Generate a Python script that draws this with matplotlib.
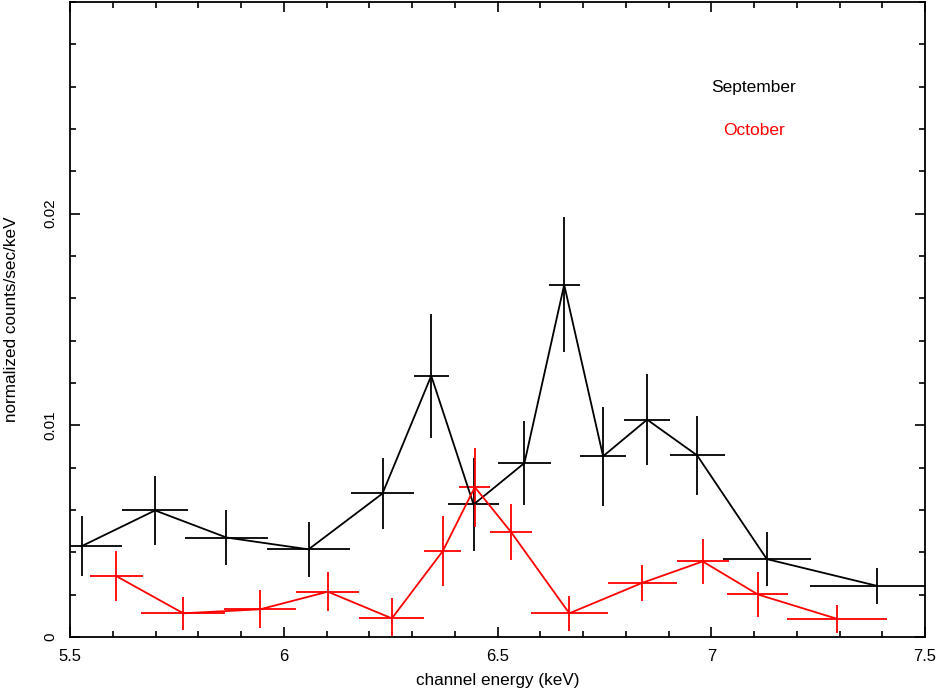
import matplotlib.pyplot as plt
from matplotlib.ticker import MultipleLocator

plt.rcParams['font.family'] = ['Liberation Sans', 'DejaVu Sans']

# September (black)
sep_e = [5.527, 5.699, 5.866, 6.058, 6.231, 6.345, 6.444, 6.563, 6.656, 6.747, 6.850, 6.967, 7.130, 7.387]
sep_de = [0.094, 0.077, 0.097, 0.098, 0.073, 0.041, 0.060, 0.061, 0.036, 0.054, 0.054, 0.064, 0.103, 0.155]
sep_rate = [0.00429, 0.00598, 0.00470, 0.00414, 0.00678, 0.01234, 0.00626, 0.00822, 0.01664, 0.00854, 0.01027, 0.00858, 0.00368, 0.00242]
sep_err = [0.00142, 0.00164, 0.00129, 0.00130, 0.00167, 0.00292, 0.00218, 0.00197, 0.00318, 0.00233, 0.00215, 0.00187, 0.00126, 0.00085]

# October (red)
oct_e = [5.608, 5.765, 5.945, 6.103, 6.253, 6.372, 6.447, 6.532, 6.668, 6.839, 6.980, 7.109, 7.294]
oct_de = [0.062, 0.098, 0.084, 0.074, 0.076, 0.043, 0.036, 0.049, 0.090, 0.081, 0.061, 0.071, 0.117]
oct_rate = [0.00288, 0.00112, 0.00131, 0.00214, 0.00088, 0.00406, 0.00708, 0.00495, 0.00112, 0.00256, 0.00357, 0.00201, 0.00086]
oct_err = [0.00118, 0.00079, 0.00089, 0.00091, 0.00095, 0.00164, 0.00187, 0.00132, 0.00082, 0.00084, 0.00107, 0.00105, 0.00065]

fig = plt.figure(figsize=(9.44, 6.92), dpi=100)
ax = fig.add_axes([70/944, 1 - 637/692, 855/944, 635/692])

ax.errorbar(sep_e, sep_rate, xerr=sep_de, yerr=sep_err, fmt='-', color='black',
            lw=1.3, elinewidth=1.3, capsize=0)
ax.errorbar(oct_e, oct_rate, xerr=oct_de, yerr=oct_err, fmt='-', color='red',
            lw=1.3, elinewidth=1.3, capsize=0)

ax.set_xlim(5.5, 7.5)
ax.set_ylim(0, 0.03)
ax.set_xticks([5.5, 6, 6.5, 7, 7.5])
ax.set_xticklabels(['5.5', '6', '6.5', '7', '7.5'], fontsize=12)
ax.set_yticks([0, 0.01, 0.02])
ax.set_yticklabels(['0', '0.01', '0.02'], rotation=90, va='center', fontsize=11)
ax.xaxis.set_minor_locator(MultipleLocator(0.1))
ax.yaxis.set_minor_locator(MultipleLocator(0.002))
ax.tick_params(which='both', direction='in', top=True, right=True, width=1.2)
ax.tick_params(axis='x', which='major', pad=8.5)
ax.tick_params(axis='y', which='major', pad=9)
ax.tick_params(which='major', length=7.5)
ax.tick_params(which='minor', length=4.5)
for s in ax.spines.values():
    s.set_linewidth(1.3)

ax.set_xlabel('channel energy (keV)', fontsize=12.3)
ax.set_ylabel('normalized counts/sec/keV', fontsize=12.3)
ax.xaxis.set_label_coords(0.5, -0.0567)
ax.yaxis.set_label_coords(-0.060, 0.5)

ax.text(7.1, 0.02594, 'September', color='black', fontsize=12.5, ha='center', va='center')
ax.text(7.1, 0.02392, 'October', color='red', fontsize=12.5, ha='center', va='center')

fig.savefig('out.png', dpi=100)
